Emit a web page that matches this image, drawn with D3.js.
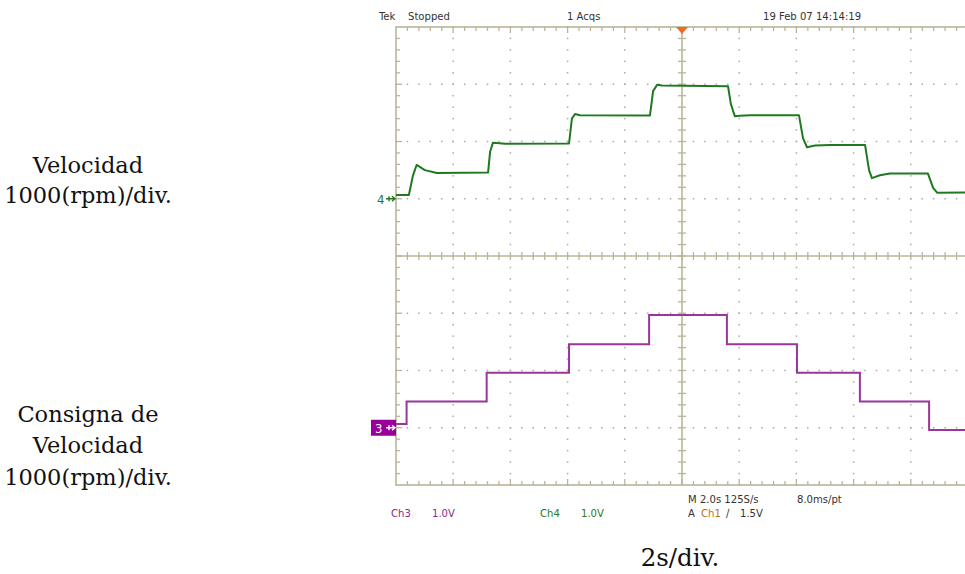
<!DOCTYPE html>
<html><head><meta charset="utf-8">
<script src="https://cdn.jsdelivr.net/npm/d3@7"></script>
<style>
html,body{margin:0;padding:0;background:#fff;overflow:hidden;}
svg{display:block;}
</style></head>
<body>
<svg id="c" width="965" height="574"></svg>
<script>
// ---- data ----
// Ch3: speed set-point (volts = 1000 rpm per div), step changes at these times (s)
const cmdTime  = [0, 0.37, 3.17, 6.05, 8.85, 11.57, 14.02, 16.22, 18.64, 20];
const cmdLevel = [0.065, 0.46, 0.96, 1.46, 1.97, 1.46, 0.96, 0.46, -0.04, -0.04];
// Ch4: measured speed (volts = 1000 rpm per div)
const speedTime  = [0, 0.45, 0.59, 0.72, 1.01, 1.43, 3.22, 3.29, 3.39, 3.53, 3.81, 6.05, 6.15, 6.26, 6.43, 8.88, 8.99, 9.13, 9.30, 11.61, 11.71, 11.85, 12.03, 12.38, 14.09, 14.23, 14.37, 14.65, 15.17, 16.40, 16.54, 16.64, 16.92, 17.27, 18.60, 18.78, 18.92, 20];
const speedValue = [0.065, 0.065, 0.40, 0.59, 0.50, 0.45, 0.46, 0.82, 0.98, 0.975, 0.96, 0.965, 1.40, 1.48, 1.46, 1.455, 1.88, 1.99, 1.98, 1.965, 1.65, 1.44, 1.45, 1.46, 1.46, 1.06, 0.90, 0.93, 0.94, 0.94, 0.50, 0.36, 0.41, 0.44, 0.44, 0.19, 0.105, 0.11];
const headerTexts = ["Tek", "Stopped", "1 Acqs", "19 Feb 07 14:14:19"];
const divisionsX = 10, divisionsY = 8, minorPerDiv = 5;

// ---- layout ----
const svg = d3.select("#c");
const x = d3.scaleLinear().domain([0, 20]).range([396, 968]);
const ydiv = d3.scaleLinear().domain([-4, 4]).range([485, 27]);
const ch4Offset = 1, ch3Offset = -3;
const gridCol = "#b9b59a", dotCol = "#a9a9a9";
const scopeFont = "'Liberation Sans Narrow','DejaVu Sans Condensed','Liberation Sans',sans-serif";
const serif = "'DejaVu Serif','Liberation Serif',serif";

const [x0, x1] = x.range(); const [yb, yt] = ydiv.range();
const divW = (x1 - x0) / divisionsX, divH = (yb - yt) / divisionsY;

const g = svg.append("g");
// dotted grid
const dots = [];
for (let i = 1; i < divisionsX; i++) {
  if (i === 5) continue;
  for (let k = 0; k <= divisionsY * minorPerDiv; k++) dots.push([x0 + i * divW, yt + k * divH / minorPerDiv]);
}
for (let j = 1; j < divisionsY; j++) {
  if (j === 4) continue;
  for (let k = 0; k <= divisionsX * minorPerDiv; k++) dots.push([x0 + k * divW / minorPerDiv, yt + j * divH]);
}
g.selectAll("rect.dot").data(dots).join("rect").attr("class","dot")
  .attr("x", d => d[0] - 0.75).attr("y", d => d[1] - 0.75).attr("width", 1.5).attr("height", 1.5)
  .attr("fill", dotCol);

// border
g.append("rect").attr("x", x0).attr("y", yt).attr("width", x1 - x0).attr("height", yb - yt)
  .attr("fill", "none").attr("stroke", gridCol).attr("stroke-width", 1.6);
// centre axes
const cx = x(10), cy = ydiv(0);
g.append("line").attr("x1", cx).attr("x2", cx).attr("y1", yt).attr("y2", yb).attr("stroke", gridCol).attr("stroke-width", 1.6);
g.append("line").attr("x1", x0).attr("x2", x1).attr("y1", cy).attr("y2", cy).attr("stroke", gridCol).attr("stroke-width", 1.6);
// ticks
const tk = [];
for (let k = 1; k < divisionsX * minorPerDiv; k++) {
  const xx = x0 + k * divW / minorPerDiv;
  const major = k % minorPerDiv === 0;
  tk.push([xx, yt, xx, yt + (major ? 6 : 4)]);
  tk.push([xx, yb, xx, yb - (major ? 6 : 4)]);
  tk.push([xx, cy - 4, xx, cy + 4]);
}
for (let k = 1; k < divisionsY * minorPerDiv; k++) {
  const yy = yt + k * divH / minorPerDiv;
  const major = k % minorPerDiv === 0;
  tk.push([x0, yy, x0 + (major ? 6 : 4), yy]);
  tk.push([cx - 4, yy, cx + 4, yy]);
}
g.selectAll("line.tk").data(tk).join("line").attr("class","tk")
  .attr("x1", d => d[0]).attr("y1", d => d[1]).attr("x2", d => d[2]).attr("y2", d => d[3])
  .attr("stroke", gridCol).attr("stroke-width", 1.3);

// trigger marker
g.append("path").attr("d", `M${cx-6},${yt} L${cx+6},${yt} L${cx},${yt+7} Z`).attr("fill", "#f26a1b");

// traces
const cmdData = cmdTime.map((t, i) => ({t, v: cmdLevel[Math.min(i, cmdLevel.length - 1)]}));
svg.append("path").datum(cmdData)
  .attr("d", d3.line().x(d => x(d.t)).y(d => ydiv(d.v + ch3Offset)).curve(d3.curveStepAfter))
  .attr("fill", "none").attr("stroke", "#9a359a").attr("stroke-width", 2);
const spData = speedTime.map((t, i) => ({t, v: speedValue[i]}));
svg.append("path").datum(spData)
  .attr("d", d3.line().x(d => x(d.t)).y(d => ydiv(d.v + ch4Offset)))
  .attr("fill", "none").attr("stroke", "#1f7a1f").attr("stroke-width", 2).attr("stroke-linejoin", "round");

// channel markers
const y4 = ydiv(ch4Offset), y3 = ydiv(ch3Offset);
svg.append("text").attr("x", 377).attr("y", y4 + 5).text("4").attr("fill", "#1f7a1f")
  .attr("font-family", scopeFont).attr("font-size", 13);
svg.append("path").attr("d", `M386,${y4} L395,${y4} M392,${y4-2.5} L395,${y4} L392,${y4+2.5} M389,${y4-2.5} L389,${y4+2.5}`)
  .attr("stroke", "#1f7a1f").attr("stroke-width", 1.4).attr("fill", "none");
svg.append("rect").attr("x", 371).attr("y", y3 - 8).attr("width", 25).attr("height", 16).attr("fill", "#990099");
svg.append("text").attr("x", 375).attr("y", y3 + 5).text("3").attr("fill", "#fff")
  .attr("font-family", scopeFont).attr("font-size", 13);
svg.append("path").attr("d", `M386,${y3} L395,${y3} M392,${y3-2.5} L395,${y3} L392,${y3+2.5} M389,${y3-2.5} L389,${y3+2.5}`)
  .attr("stroke", "#fff").attr("stroke-width", 1.4).attr("fill", "none");

// header
const hdrX = [379, 408, 567, 763];
svg.selectAll("text.hdr").data(headerTexts).join("text").attr("class","hdr")
  .attr("x", (d, i) => hdrX[i]).attr("y", 20).text(d => d)
  .attr("font-family", scopeFont).attr("font-size", 11.2).attr("fill", "#333");

// footer
const foot = [
  {s:"Ch3", x:391, y:517, c:"#8b2a8b"}, {s:"1.0V", x:432, y:517, c:"#8b2a8b"},
  {s:"Ch4", x:540, y:517, c:"#2a7a2a"}, {s:"1.0V", x:581, y:517, c:"#2a7a2a"},
  {s:"M 2.0s 125S/s", x:688, y:503, c:"#333"}, {s:"8.0ms/pt", x:797, y:503, c:"#333"},
  {s:"A", x:688, y:517, c:"#333"}, {s:"Ch1", x:701, y:517, c:"#b8741a"},
  {s:"\u2215", x:726, y:517, c:"#333"}, {s:"1.5V", x:740, y:517, c:"#333"}
];
svg.selectAll("text.ft").data(foot).join("text").attr("class","ft")
  .attr("x", d => d.x).attr("y", d => d.y).text(d => d.s).attr("fill", d => d.c)
  .attr("font-family", scopeFont).attr("font-size", 11.2);

// side labels
const side = [
  {s:"Velocidad", y:173}, {s:"1000(rpm)/div.", y:203},
  {s:"Consigna de", y:422}, {s:"Velocidad", y:453}, {s:"1000(rpm)/div.", y:485}
];
svg.selectAll("text.sd").data(side).join("text").attr("class","sd")
  .attr("x", 88).attr("y", d => d.y).attr("text-anchor", "middle").text(d => d.s)
  .attr("font-family", serif).attr("font-size", 22.5).attr("fill", "#111");
svg.append("text").attr("x", 680).attr("y", 566).attr("text-anchor", "middle").text("2s/div.")
  .attr("font-family", serif).attr("font-size", 24.5).attr("fill", "#111");
</script>
</body></html>
